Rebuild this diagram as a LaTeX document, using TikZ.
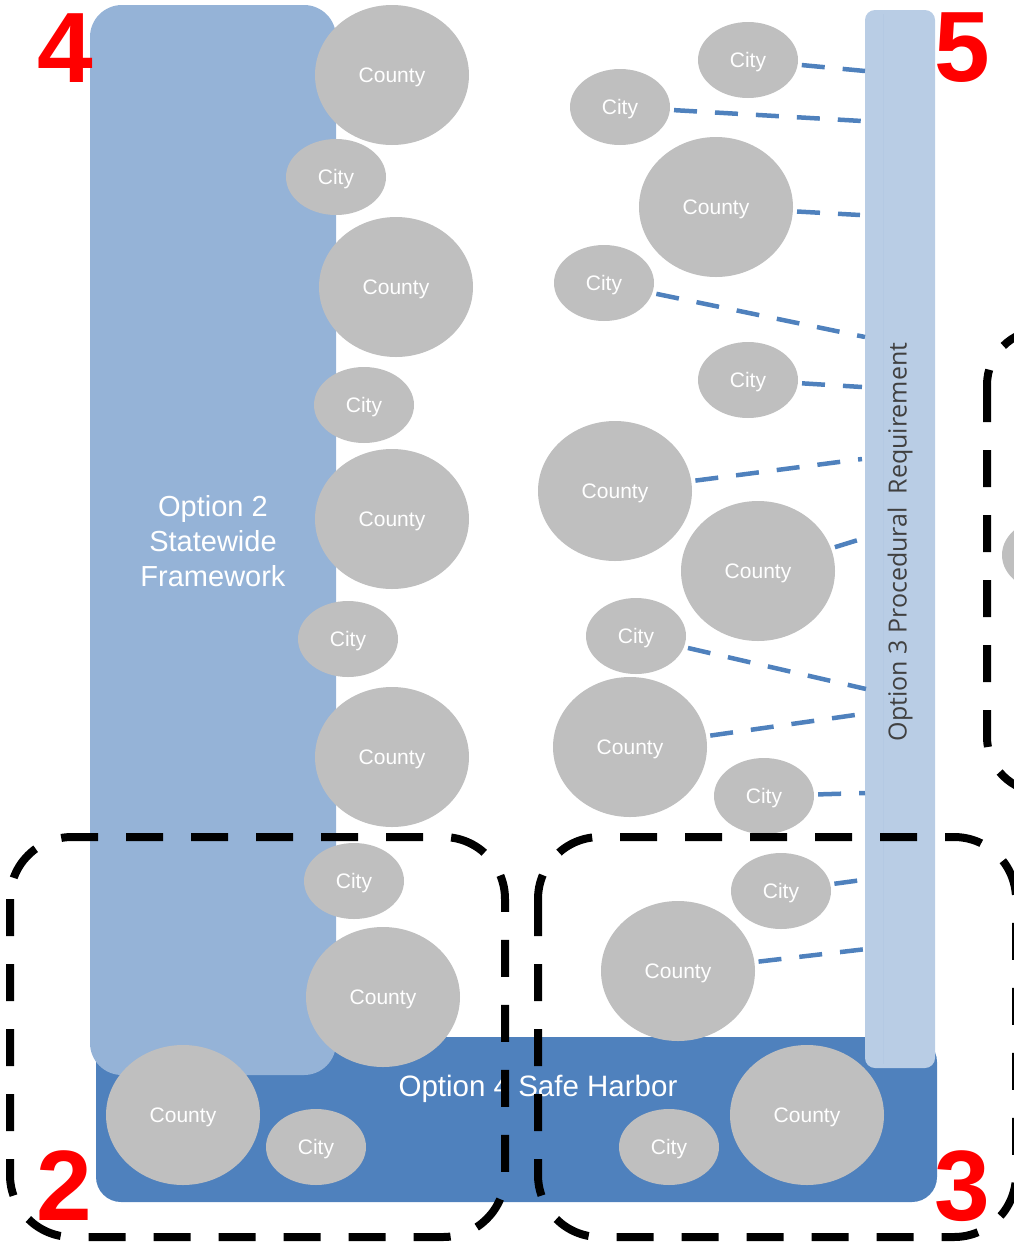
\documentclass[tikz,border=0pt]{standalone}
\usepackage{fontspec}
\setmainfont{Liberation Sans}
\newfontfamily\barfont{Open Sans}
\usetikzlibrary{shapes.geometric}
\definecolor{optlight}{HTML}{95B3D7}
\definecolor{optdark}{HTML}{4F81BD}
\definecolor{optbar}{HTML}{B9CDE5}
\definecolor{bubble}{HTML}{BFBFBF}
\definecolor{bartext}{HTML}{404040}

\begin{document}
\begin{tikzpicture}[x=1pt, y=-1pt,
  county/.style={ellipse, fill=bubble, minimum width=154pt, minimum height=140pt, inner sep=0pt, text depth=0pt, text=white, font=\fontsize{21}{25}\selectfont},
  city/.style={ellipse, fill=bubble, minimum width=100pt, minimum height=76pt, inner sep=0pt, text depth=0pt, text=white, font=\fontsize{21}{25}\selectfont},
  link/.style={optdark, line width=4.5pt, dash pattern=on 23pt off 18pt, shorten <=4pt},
  zone/.style={black, line width=8pt, dash pattern=on 37pt off 28pt, rounded corners=62pt},
  tag/.style={red, font=\fontsize{100}{100}\selectfont\bfseries}]
\useasboundingbox (0,0) rectangle (1014,1243);
\clip (0,0) rectangle (1014,1243);
\fill[optdark, rounded corners=25pt] (96,1037) rectangle (937,1202);
\fill[optlight, rounded corners=32pt] (90,5) rectangle (336,1075);
\fill[optbar, rounded corners=10pt] (865,10) rectangle (935,1068);
\draw[optbar!85!optlight, line width=1pt] (883,14) -- (883,1064);
\node[align=center, text=white, font=\fontsize{29}{35}\selectfont] (opt2) at (213,541) {Option 2\\Statewide\\Framework};
\node[text=white, font=\fontsize{29.5}{33}\selectfont] (opt4) at (538,1089) {Option 4 Safe Harbor};
\node[rotate=90, text=bartext, font=\barfont\fontsize{25}{29}\selectfont] (opt3) at (900,542) {Option 3 Procedural\ \ Requirement};
\foreach \n/\x/\y in {co1/392/75, co2/396/287, co3/392/519, co4/392/757, co5/383/997, co6/183/1115,
  co7/807/1115, co8/716/207, co9/615/491, co10/758/571, co11/630/747, co12/678/971}
  \node[county] (\n) at (\x,\y) {County};
\foreach \n/\x/\y in {ci1/336/177, ci2/364/405, ci3/348/639, ci4/354/881, ci5/316/1147, ci6/669/1147,
  ci7/748/60, ci8/620/107, ci9/604/283, ci10/748/380, ci11/636/636, ci12/764/796, ci13/781/891}
  \node[city] (\n) at (\x,\y) {City};
\node[city] (ci14) at (1052,555) {};
\coordinate (p1) at (865,71);
\coordinate (p2) at (862,121);
\coordinate (p3) at (860,215);
\coordinate (p4) at (865,337);
\coordinate (p5) at (862,387);
\coordinate (p6) at (862,459);
\coordinate (p7) at (858,540);
\coordinate (p8) at (866,689);
\coordinate (p9) at (862,714);
\coordinate (p10) at (865,793);
\coordinate (p11) at (862,880);
\coordinate (p12) at (875,948);
\foreach \a/\b in {ci7/p1, ci8/p2, co8/p3, ci9/p4, ci10/p5, co9/p6, co10/p7, ci11/p8, co11/p9, ci12/p10, ci13/p11, co12/p12}
  \draw[link] (\a) -- (\b);
\draw[zone] (10,837) rectangle (505,1237);
\draw[zone] (538,837) rectangle (1016,1237);
\draw[zone, rounded corners=55pt] (987,330) rectangle (1100,792);
\node[tag] (n4) at (65,48) {4};
\node[tag] (n5) at (962,48) {5};
\node[tag] (n2) at (64,1186) {2};
\node[tag] (n3) at (962,1186) {3};
\end{tikzpicture}
\end{document}
